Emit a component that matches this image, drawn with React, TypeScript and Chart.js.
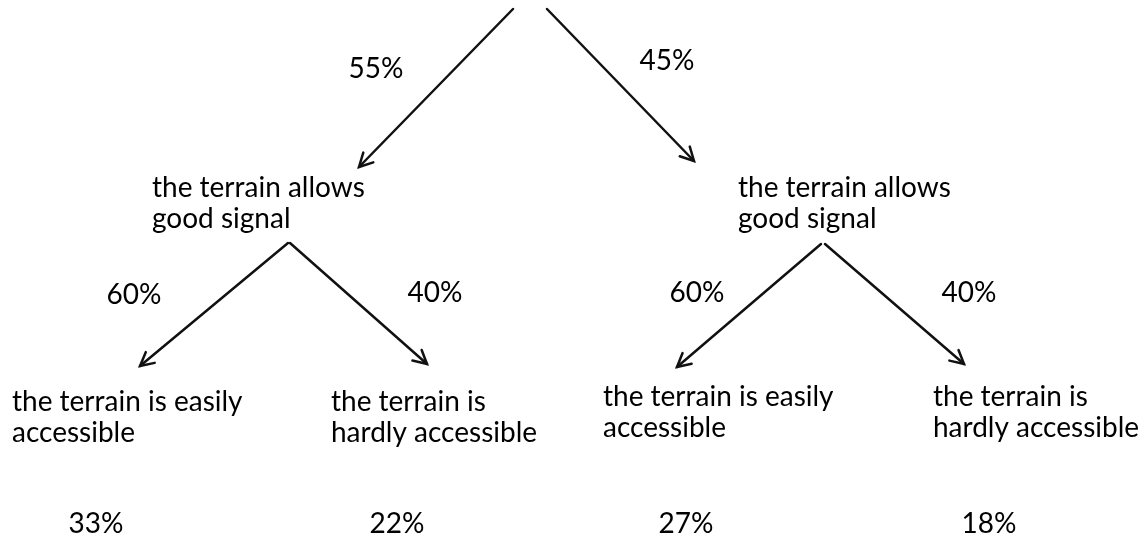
import React, { useEffect, useRef } from "react";
import { Chart, registerables } from "chart.js";

Chart.register(...registerables);

// Branch probabilities (root -> signal nodes, signal nodes -> access leaves)
const branchLabels = ["55%", "45%", "60%", "40%", "60%", "40%"];
// Branch layout in diagram units (x: 0..1145, y: 0..541 from top)
const branchStartX = [513, 547, 288, 290, 821, 825];
const branchStartY = [9, 9, 243, 243, 244, 244];
const branchEndX = [359, 694, 140, 427, 677, 964];
const branchEndY = [167, 161, 366, 364, 367, 364];
const branchLabelX = [376, 667, 134, 435, 697, 969];
const branchLabelY = [78, 70, 304, 302, 302, 302];

// Node captions
const nodeLines = [
  ["the terrain allows", "good signal"],
  ["the terrain allows", "good signal"],
  ["the terrain is easily", "accessible"],
  ["the terrain is", "hardly accessible"],
  ["the terrain is easily", "accessible"],
  ["the terrain is", "hardly accessible"],
];
const nodeX = [152, 738, 12, 331, 603, 933];
const nodeY = [197, 197, 411, 411, 406, 406];

// Final joint probabilities
const leafShares = ["33%", "22%", "27%", "18%"];
const leafX = [96, 397, 686, 989];
const leafY = [533, 533, 533, 533];

const FONT = "28px Lato";
const LINE_GAP = 31;

const treePlugin = {
  id: "treePlugin",
  afterDatasetsDraw(chart: any) {
    const { ctx, scales } = chart;
    const xs = scales.x;
    const ys = scales.y;
    ctx.save();
    // arrowheads
    chart.data.datasets.forEach((_: any, i: number) => {
      const meta = chart.getDatasetMeta(i);
      const p0 = meta.data[0];
      const p1 = meta.data[1];
      const ang = Math.atan2(p1.y - p0.y, p1.x - p0.x);
      const len = 15;
      const spread = Math.PI / 6.5;
      ctx.strokeStyle = "#111";
      ctx.lineWidth = 2.5;
      ctx.lineCap = "round";
      ctx.beginPath();
      ctx.moveTo(p1.x - len * Math.cos(ang - spread), p1.y - len * Math.sin(ang - spread));
      ctx.lineTo(p1.x, p1.y);
      ctx.lineTo(p1.x - len * Math.cos(ang + spread), p1.y - len * Math.sin(ang + spread));
      ctx.stroke();
    });
    ctx.fillStyle = "#000";
    ctx.font = FONT;
    ctx.textBaseline = "alphabetic";
    // branch labels
    ctx.textAlign = "center";
    branchLabels.forEach((t, i) => {
      ctx.fillText(t, xs.getPixelForValue(branchLabelX[i]), ys.getPixelForValue(branchLabelY[i]));
    });
    // node captions
    ctx.textAlign = "left";
    nodeLines.forEach((lines, i) => {
      lines.forEach((line, j) => {
        ctx.fillText(line, xs.getPixelForValue(nodeX[i]), ys.getPixelForValue(nodeY[i] + j * LINE_GAP));
      });
    });
    // leaf shares
    ctx.textAlign = "center";
    leafShares.forEach((t, i) => {
      ctx.fillText(t, xs.getPixelForValue(leafX[i]), ys.getPixelForValue(leafY[i]));
    });
    ctx.restore();
  },
};

export default function App() {
  const ref = useRef<HTMLCanvasElement | null>(null);
  useEffect(() => {
    if (!ref.current) return;
    const datasets = branchLabels.map((label, i) => ({
      label,
      data: [
        { x: branchStartX[i], y: branchStartY[i] },
        { x: branchEndX[i], y: branchEndY[i] },
      ],
      showLine: true,
      borderColor: "#111",
      borderWidth: 2.5,
      pointRadius: 0,
      borderCapStyle: "round" as const,
      clip: false as any,
    }));
    const chart = new Chart(ref.current, {
      type: "scatter",
      data: { datasets },
      options: {
        animation: false,
        responsive: true,
        maintainAspectRatio: false,
        events: [],
        layout: { padding: 0 },
        scales: {
          x: { type: "linear", min: 0, max: 1145, display: false },
          y: { type: "linear", min: 0, max: 541, reverse: true, display: false },
        },
        plugins: { legend: { display: false }, tooltip: { enabled: false } },
      },
      plugins: [treePlugin],
    });
    return () => chart.destroy();
  }, []);
  return (
    <div style={{ position: "fixed", left: 0, top: 0, width: 1145, height: 541, background: "#fff" }}>
      <canvas ref={ref} />
    </div>
  );
}
